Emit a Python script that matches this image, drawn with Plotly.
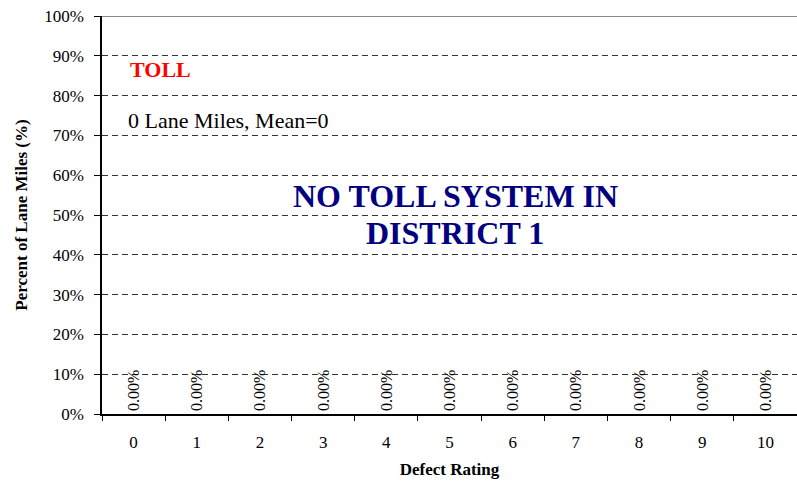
import plotly.graph_objects as go

categories = [str(i) for i in range(11)]
values = [0.0] * 11
labels = [f"{v:.2f}%" for v in values]
y_ticks = list(range(0, 101, 10))
y_tick_text = [f"{t}%" for t in y_ticks]

FONT = "Liberation Serif, Times New Roman, serif"

fig = go.Figure()
fig.add_trace(go.Bar(
    x=categories, y=values, text=labels,
    textposition="outside", textangle=-90, constraintext="none",
    textfont=dict(family=FONT, size=16, color="black"),
    marker=dict(color="#9999ff", line=dict(width=0)),
    cliponaxis=False, showlegend=False, hoverinfo="skip",
))

fig.update_layout(
    width=797, height=484,
    margin=dict(l=102, r=0, t=16, b=70, autoexpand=False),
    paper_bgcolor="white", plot_bgcolor="white",
    font=dict(family=FONT, size=16, color="black"),
    bargap=0.4,
    xaxis=dict(
        type="category", range=[-0.5, 10.5], automargin=False,
        showline=True, linecolor="black", linewidth=1.5,
        ticks="outside", tickson="boundaries", ticklen=5, tickcolor="black",
        ticklabelstandoff=12,
        showgrid=False, zeroline=False,
        tickfont=dict(family=FONT, size=17, color="black"),
        title=dict(text="<b>Defect Rating</b>", font=dict(family=FONT, size=17), standoff=12),
    ),
    yaxis=dict(
        range=[0, 100], tickvals=y_ticks, ticktext=y_tick_text, automargin=False,
        showline=True, linecolor="black", linewidth=1.5,
        ticks="outside", ticklen=6, tickcolor="black",
        ticklabelstandoff=7,
        showgrid=True, gridcolor="#333333", griddash="6px,4px", gridwidth=1,
        zeroline=False,
        tickfont=dict(family=FONT, size=17, color="black"),
        title=dict(text="<b>Percent of Lane Miles (%)</b>", font=dict(family=FONT, size=17), standoff=12),
    ),
)

fig.add_shape(type="line", xref="paper", yref="y", x0=0, x1=1, y0=100, y1=100,
              layer="above", line=dict(color="#8c8c8c", width=2))

fig.add_annotation(text="<b>TOLL</b>", xref="paper", yref="y", x=(128 - 102) / 695, y=(414 - 69) / 3.98,
                   xanchor="left", yanchor="middle", showarrow=False,
                   font=dict(family=FONT, size=22, color="red"))
fig.add_annotation(text="0 Lane Miles, Mean=0", xref="paper", yref="y", x=(126 - 102) / 695, y=(414 - 120) / 3.98,
                   xanchor="left", yanchor="middle", showarrow=False,
                   font=dict(family=FONT, size=22, color="black"))
fig.add_annotation(text="<b>NO TOLL SYSTEM IN</b>", xref="paper", yref="y", x=(455 - 102) / 695, y=(414 - 196) / 3.98,
                   xanchor="center", yanchor="middle", showarrow=False,
                   font=dict(family=FONT, size=32, color="#000080"))
fig.add_annotation(text="<b>DISTRICT 1</b>", xref="paper", yref="y", x=(455 - 102) / 695, y=(414 - 233) / 3.98,
                   xanchor="center", yanchor="middle", showarrow=False,
                   font=dict(family=FONT, size=32, color="#000080"))

fig.write_html("out.html", config={"displayModeBar": False},
               post_script="document.body.style.margin='0';document.body.style.padding='0';")
